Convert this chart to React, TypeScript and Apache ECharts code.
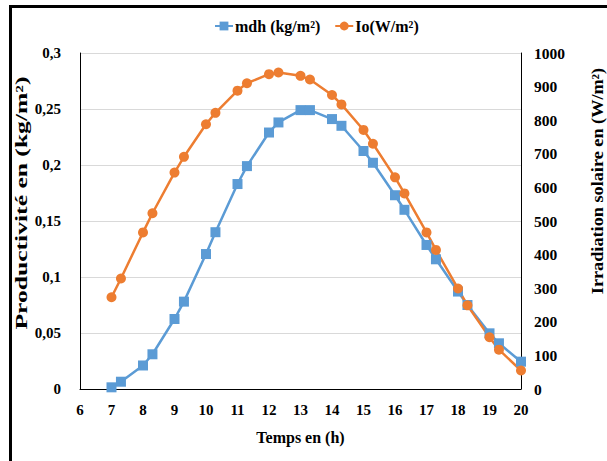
import React, { useEffect, useRef } from "react";
import * as echarts from "echarts";

const hours = [7, 7.3, 8, 8.3, 9, 9.3, 10, 10.3, 11, 11.3, 12, 12.3, 13, 13.3, 14, 14.3, 15, 15.3, 16, 16.3, 17, 17.3, 18, 18.3, 19, 19.3, 20];
const mdh = [0.0015, 0.0065, 0.021, 0.031, 0.0625, 0.078, 0.1205, 0.14, 0.183, 0.199, 0.229, 0.238, 0.249, 0.249, 0.241, 0.235, 0.2125, 0.202, 0.173, 0.16, 0.1286, 0.1158, 0.087, 0.075, 0.0497, 0.0408, 0.0244];
const io = [273, 329, 466, 523, 644, 691, 788, 822, 888, 910, 937, 942, 932, 921, 875, 847, 771, 730, 630, 582, 466, 414, 299, 249, 154, 117, 55];

const seriesNames = ["mdh (kg/m²)", "Io(W/m²)"];
const xName = "Temps en (h)";
const yLeftName = "Productivité en (kg/m²)";
const yRightName = "Irradiation solaire en (W/m²)";

const FONT = '"Liberation Serif", "Times New Roman", serif';
const BLUE = "#5B9BD5";
const ORANGE = "#ED7D31";

export default function App() {
  const ref = useRef<HTMLDivElement>(null);
  useEffect(() => {
    if (!ref.current) return;
    const chart = echarts.init(ref.current, undefined, { renderer: "svg" });
    const tick = { color: "#000", fontFamily: FONT, fontWeight: "bold" as const, fontSize: 15 };
    const nameStyle = (text: string) => ({
      text,
      fill: "#000",
      font: `bold 16px ${FONT}`,
      align: "center",
      verticalAlign: "middle",
    });
    chart.setOption({
      animation: false,
      backgroundColor: "#fff",
      textStyle: { fontFamily: FONT },
      graphic: [
        {
          type: "rect",
          shape: { x: 10.5, y: 6.5, width: 700, height: 500 },
          style: { fill: "none", stroke: "#000", lineWidth: 3 },
          silent: true,
        },
        {
          type: "text",
          x: 22,
          y: 203,
          rotation: Math.PI / 2,
          scaleX: 1.6,
          style: nameStyle(yLeftName),
          silent: true,
        },
        {
          type: "text",
          x: 598,
          y: 181,
          rotation: Math.PI / 2,
          scaleX: 1.14,
          style: nameStyle(yRightName),
          silent: true,
        },
      ],
      legend: {
        top: 13,
        left: 209,
        itemGap: 14,
        itemWidth: 18,
        itemHeight: 11,
        textStyle: { color: "#000", fontFamily: FONT, fontWeight: "bold", fontSize: 16, padding: [0, 0, 0, -3] },
        data: seriesNames,
      },
      grid: { left: 80, right: 86, top: 53, bottom: 72, containLabel: false, outerBoundsMode: "none" },
      xAxis: {
        type: "value",
        min: 6,
        max: 20,
        interval: 1,
        name: xName,
        nameLocation: "middle",
        nameGap: 40,
        nameTextStyle: { color: "#000", fontFamily: FONT, fontWeight: "bold", fontSize: 16 },
        axisLine: { show: true, lineStyle: { color: "#000", width: 1 } },
        axisTick: { show: false },
        splitLine: { show: false },
        axisLabel: { ...tick, margin: 13 },
      },
      yAxis: [
        {
          type: "value",
          min: 0,
          max: 0.3,
          interval: 0.05,
          position: "left",
          axisLine: { show: true, lineStyle: { color: "#000", width: 1 } },
          axisTick: { show: false },
          splitLine: { show: true, lineStyle: { color: "#d9d9d9", width: 1 } },
          axisLabel: {
            ...tick,
            margin: 19,
            formatter: (v: number) => String(Math.round(v * 100) / 100).replace(".", ","),
          },
        },
        {
          type: "value",
          min: 0,
          max: 1000,
          interval: 100,
          position: "right",
          axisLine: { show: true, lineStyle: { color: "#000", width: 1 } },
          axisTick: { show: false },
          splitLine: { show: false },
          axisLabel: { ...tick, fontSize: 15.5, margin: 13, formatter: (v: number) => String(v) },
        },
      ],
      series: [
        {
          name: seriesNames[0],
          type: "line",
          yAxisIndex: 0,
          data: hours.map((h, i) => [h, mdh[i]]),
          symbol: "rect",
          symbolSize: 10,
          itemStyle: { color: BLUE },
          lineStyle: { color: BLUE, width: 2.5 },
        },
        {
          name: seriesNames[1],
          type: "line",
          yAxisIndex: 1,
          data: hours.map((h, i) => [h, io[i]]),
          symbol: "circle",
          symbolSize: 10,
          itemStyle: { color: ORANGE },
          lineStyle: { color: ORANGE, width: 2.5 },
        },
      ],
    });
    return () => chart.dispose();
  }, []);
  return (
    <div
      ref={ref}
      style={{ position: "fixed", left: 0, top: 0, width: 607, height: 461, background: "#fff" }}
    />
  );
}
